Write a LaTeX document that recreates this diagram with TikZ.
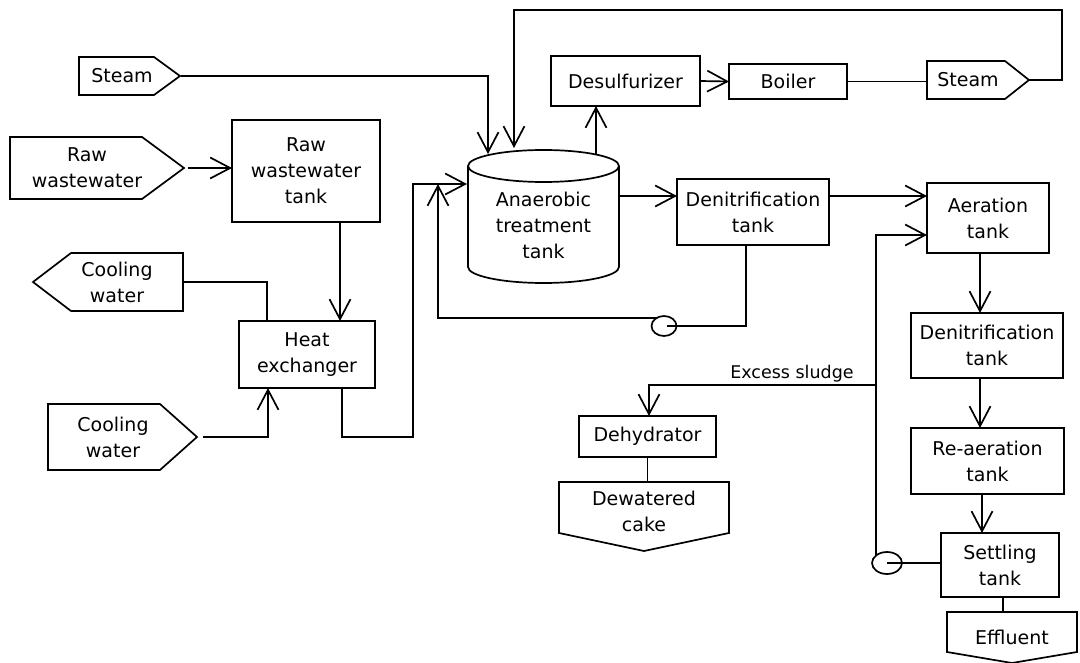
\documentclass[tikz,border=0pt]{standalone}
\usepackage{fontspec}
\setmainfont{DejaVu Sans}
\usetikzlibrary{arrows.meta}
\begin{document}
\begin{tikzpicture}[x=1pt,y=-1pt,
  line width=1.7pt, line join=miter,
  >={Straight Barb[length=20pt,width=21pt]},
  every node/.style={font=\fontsize{19}{26}\selectfont, align=center, inner sep=0pt, outer sep=0pt},
  bx/.style={draw, line width=1.7pt},
  small/.style={font=\fontsize{17.5}{20}\selectfont}]
\useasboundingbox (0,0) rectangle (1080,663);

% ---------- signal shapes ----------
\draw (79,57) -- (154,57) -- (180,76) -- (154,95) -- (79,95) -- cycle;
\node (steam1) at (122,76) {Steam};
\coordinate (steam1tip) at (181,76);

\draw (10,137) -- (142,137) -- (184,168) -- (142,199) -- (10,199) -- cycle;
\node (raw) at (87,168) {Raw\\wastewater};
\coordinate (rawtip) at (188,168);

\draw (33,282) -- (71,253) -- (183,253) -- (183,311) -- (71,311) -- cycle;
\node (coolout) at (117,282) {Cooling\\water};
\coordinate (cooloutE) at (183,282);

\draw (48,404) -- (160,404) -- (197,437) -- (160,470) -- (48,470) -- cycle;
\node (coolin) at (113,437) {Cooling\\water};
\coordinate (coolintip) at (203,437);

\draw (927,61) -- (1005,61) -- (1029,80) -- (1005,99) -- (927,99) -- cycle;
\node (steam2) at (968,80) {Steam};
\coordinate (steam2W) at (927,81.5);
\coordinate (steam2tip) at (1029,80);

\draw (559,482) -- (729,482) -- (729,533) -- (644,551) -- (559,533) -- cycle;
\node (cake) at (644,511) {Dewatered\\cake};
\coordinate (cakeN) at (647,482);

\draw (947,612) -- (1077,612) -- (1077,652) -- (1012,663) -- (947,652) -- cycle;
\node (eff) at (1012,637) {Effluent};
\coordinate (effN) at (1003,612);

% ---------- cylinder ----------
\draw (543.5,166) ellipse [x radius=75.5pt, y radius=16pt];
\draw (468,166) -- (468,267) arc[start angle=180, end angle=360, x radius=75.5pt, y radius=16pt] -- (619,166);
\node (anaer) at (543.5,225) {Anaerobic\\treatment\\tank};
\coordinate (anaerT1) at (488,154);
\coordinate (anaerT2) at (514,148);
\coordinate (anaerTR) at (596,154);
\coordinate (anaerW) at (467,184);
\coordinate (anaerE) at (619,196);

% ---------- boxes ----------
\node[bx, minimum width=148pt, minimum height=102pt] (rawtank) at (306,171) {Raw\\wastewater\\tank};
\node[bx, minimum width=136pt, minimum height=67pt] (hx) at (307,354.5) {Heat\\exchanger};
\node[bx, minimum width=149pt, minimum height=50pt] (desulf) at (625.5,81) {Desulfurizer};
\node[bx, minimum width=118pt, minimum height=35pt] (boiler) at (788,81.5) {Boiler};
\node[bx, minimum width=152pt, minimum height=66pt] (denit1) at (753,212) {Denitrification\\tank};
\node[bx, minimum width=122pt, minimum height=70pt] (aer) at (988,218) {Aeration\\tank};
\node[bx, minimum width=152pt, minimum height=65pt] (denit2) at (987,345.5) {Denitrification\\tank};
\node[bx, minimum width=153pt, minimum height=66pt] (reaer) at (987.5,461) {Re-aeration\\tank};
\node[bx, minimum width=118pt, minimum height=64pt] (settle) at (1000,565) {Settling\\tank};
\node[bx, minimum width=137pt, minimum height=41pt] (dehyd) at (647.5,436.5) {Dehydrator};

% ---------- pumps ----------
\coordinate (p1) at (664,326);
\draw (p1) ellipse [x radius=12.5pt, y radius=10pt];
\coordinate (p1out) at (657,318);
\coordinate (p2) at (887,563);
\draw (p2) ellipse [x radius=15pt, y radius=11pt];
\coordinate (p2out) at (876,555);

% ---------- connectors ----------
\draw[->] (steam1tip) -| (anaerT1);
\draw[->] (rawtip) -- (rawtank.west |- rawtip);
\draw[->] ([xshift=34pt]rawtank.south) -- ([xshift=33pt]hx.north);
\draw ([xshift=-40pt]hx.north) |- (cooloutE);
\draw[->] (coolintip) -| ([xshift=-39pt]hx.south);
\coordinate (j1) at (413,437);
\draw[->] ([xshift=35pt]hx.south) |- (j1) |- (anaerW);
\coordinate (loopR) at (1062,10);
\draw[->] (steam2tip) -| (loopR) -| (anaerT2);
\draw[->] (anaerTR) -- (desulf.south -| anaerTR);
\draw[->] (desulf.east) -- (boiler.west);
\draw (boiler.east) -- (steam2W);
\draw[->] (anaerE) -- (denit1.west |- anaerE);
\coordinate (d1e) at ([yshift=16pt]denit1.east);
\draw[->] (d1e) -- (d1e -| aer.west);
\draw ([xshift=-7pt]denit1.south) |- ([xshift=3pt]p1);
\coordinate (j2) at (438,318);
\draw[->] (p1out) -- (j2) -- (j2 |- anaerW);
\draw[->] ([xshift=-8pt]aer.south) -- ([xshift=-7pt]denit2.north);
\draw[->] ([xshift=-7pt]denit2.south) -- ([xshift=-7.5pt]reaer.north);
\draw[->] ([xshift=-5.5pt]reaer.south) -- ([xshift=-18pt]settle.north);
\draw (settle.west |- p2) -- (p2);
\coordinate (aerin2) at ([yshift=-17pt]aer.west);
\draw[->] (p2out) |- (aerin2);
\coordinate (j3) at (876,385);
\draw[->] (j3) -| ([xshift=1.5pt]dehyd.north);
\node[small, anchor=base] (exlabel) at (792,378) {Excess sludge};
\draw (dehyd.south) -- (dehyd.south |- cakeN);
\draw ([xshift=3pt]settle.south) -- (effN);
\end{tikzpicture}
\end{document}
